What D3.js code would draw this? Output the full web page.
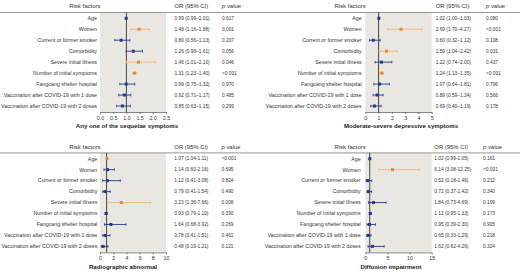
<!DOCTYPE html>
<html>
<head>
<meta charset="utf-8">
<script src="https://cdn.jsdelivr.net/npm/d3@7"></script>
<style>
  body { margin: 0; background: #fff; }
  svg { display: block; font-family: "Liberation Sans", Arial, sans-serif; }
</style>
</head>
<body>
<svg id="chart" width="520" height="277"></svg>
<script>
var factors = ["Age", "Women", "Current or former smoker", "Comorbidity", "Severe initial illness",
  "Number of initial symptoms", "Fangcang shelter hospital",
  "Vaccination after COVID-19 with 1 dose", "Vaccination after COVID-19 with 2 doses"];

var titles = ["Any one of the sequelae symptoms", "Moderate-severe depressive symptoms",
  "Radiographic abnormal", "Diffusion impairment"];

// any one of the sequelae symptoms
var anyOR = [0.99, 1.48, 0.80, 1.26, 1.46, 1.31, 0.99, 0.92, 0.85];
var anyLo = [0.99, 1.16, 0.56, 0.99, 1.01, 1.23, 0.75, 0.71, 0.63];
var anyHi = [1.01, 1.88, 1.13, 1.61, 2.10, 1.40, 1.32, 1.17, 1.15];
var anyP = ["0.617", "0.001", "0.207", "0.056", "0.046", "<0.001", "0.970", "0.485", "0.299"];
var anyTicks = [0, 0.5, 1.0, 1.5, 2.0, 2.5];

// moderate-severe depressive symptoms
var depOR = [1.02, 2.69, 0.60, 1.59, 1.22, 1.24, 1.07, 0.89, 0.69];
var depLo = [1.00, 1.70, 0.32, 1.04, 0.74, 1.13, 0.64, 0.59, 0.40];
var depHi = [1.03, 4.27, 1.12, 2.42, 2.00, 1.35, 1.81, 1.34, 1.19];
var depP = ["0.080", "<0.001", "0.108", "0.031", "0.437", "<0.001", "0.796", "0.566", "0.178"];
var depTicks = [0, 1, 2, 3, 4, 5];

// radiographic abnormal
var radOR = [1.07, 1.14, 1.12, 0.79, 3.23, 0.93, 1.64, 0.78, 0.48];
var radLo = [1.04, 0.60, 0.41, 0.41, 1.36, 0.79, 0.68, 0.41, 0.19];
var radHi = [1.11, 2.16, 3.08, 1.54, 7.66, 1.10, 3.92, 1.51, 1.21];
var radP = ["<0.001", "0.695", "0.824", "0.490", "0.008", "0.390", "0.269", "0.461", "0.121"];
var radTicks = [0, 2, 4, 6, 8, 10];

// diffusion impairment
var difOR = [1.02, 6.14, 0.52, 0.72, 1.84, 1.12, 0.95, 0.65, 1.62];
var difLo = [0.99, 3.08, 0.18, 0.37, 0.73, 0.95, 0.39, 0.33, 0.62];
var difHi = [1.05, 12.25, 1.46, 1.42, 4.69, 1.33, 2.30, 1.29, 4.26];
var difP = ["0.161", "<0.001", "0.212", "0.340", "0.199", "0.173", "0.905", "0.218", "0.324"];
var difTicks = [0, 5, 10, 15];

var ORANGE = "#e08a2e", ORANGE_LT = "#f0b673", BLUE = "#26398a", SHADE = "#e9e7e1";

var svg = d3.select("#chart");

function drawPanel(cfg) {
  var g = svg.append("g").attr("transform", "translate(0," + cfg.oy + ")");
  var rows = factors.map(function(f, i) {
    return { name: f, or: cfg.or[i], lo: cfg.lo[i], hi: cfg.hi[i], p: cfg.p[i] };
  });
  var x = d3.scaleLinear().domain([0, cfg.ticks[cfg.ticks.length - 1]]).range([cfg.x0, cfg.x1]);
  var y = d3.scalePoint().domain(factors).range([18.3, 106]);
  var top = 12.5, bottom = 112;

  g.append("rect")
    .attr("x", cfg.x0).attr("y", top)
    .attr("width", cfg.x1 - cfg.x0).attr("height", bottom - top)
    .attr("fill", SHADE);

  // header
  g.append("line").attr("x1", cfg.lineX0).attr("x2", cfg.lineX1)
    .attr("y1", top).attr("y2", top).attr("stroke", "#8a8a8a").attr("stroke-width", 0.9);
  g.append("text").attr("x", cfg.x0 + 0.5).attr("y", 8.3).attr("text-anchor", "end")
    .attr("font-size", 6).attr("fill", "#333").text("Risk factors");
  g.append("text").attr("x", cfg.orX).attr("y", 8.3)
    .attr("font-size", 5.9).attr("fill", "#333").text("OR (95% CI)");
  var pv = g.append("text").attr("x", cfg.pX).attr("y", 8.3)
    .attr("font-size", 5.9).attr("fill", "#333");
  pv.append("tspan").attr("font-style", "italic").text("p");
  pv.append("tspan").text(" value");

  // reference line at OR = 1
  g.append("line").attr("x1", x(1)).attr("x2", x(1)).attr("y1", top).attr("y2", bottom)
    .attr("stroke", "#333").attr("stroke-width", 0.9);

  // axis
  var axis = d3.axisBottom(x).tickValues(cfg.ticks).tickSize(2).tickSizeOuter(0)
    .tickFormat(cfg.fmt);
  var ax = g.append("g").attr("transform", "translate(0," + bottom + ")").call(axis);
  ax.select(".domain").attr("stroke", "#555").attr("stroke-width", 0.7);
  ax.selectAll(".tick line").attr("stroke", "#555").attr("stroke-width", 0.7);
  ax.selectAll(".tick text").attr("font-size", 5.3).attr("fill", "#333")
    .attr("font-family", "Liberation Sans, Arial, sans-serif").attr("dy", "0.55em");

  g.append("text").attr("x", cfg.titleX).attr("y", 128.3).attr("text-anchor", "middle")
    .attr("font-size", 6.1).attr("font-weight", "bold").attr("fill", "#222").text(cfg.title);

  var sig = function(d) { return d.p.charAt(0) === "<" || parseFloat(d.p) < 0.05; };

  var row = g.selectAll(".row").data(rows).enter().append("g")
    .attr("transform", function(d) { return "translate(0," + y(d.name) + ")"; });

  row.append("text").attr("x", cfg.labelRight).attr("dy", "0.35em").attr("text-anchor", "end")
    .attr("font-size", 5.3).attr("fill", "#333").text(function(d) { return d.name; });

  row.append("text").attr("x", cfg.orX).attr("dy", "0.35em")
    .attr("font-size", 4.8).attr("fill", "#333")
    .text(function(d) {
      return d.or.toFixed(2) + " (" + d.lo.toFixed(2) + cfg.sep + d.hi.toFixed(2) + ")";
    });

  row.append("text").attr("x", cfg.pX).attr("dy", "0.35em")
    .attr("font-size", 4.8).attr("fill", "#333").text(function(d) { return d.p; });

  // whiskers
  row.append("line")
    .attr("x1", function(d) { return x(d.lo); }).attr("x2", function(d) { return x(d.hi); })
    .attr("stroke", function(d) { return sig(d) ? ORANGE_LT : BLUE; }).attr("stroke-width", 0.9);
  row.selectAll(".cap").data(function(d) { return [d.lo, d.hi].map(function(v) { return { v: v, s: sig(d) }; }); })
    .enter().append("line")
    .attr("x1", function(c) { return x(c.v); }).attr("x2", function(c) { return x(c.v); })
    .attr("y1", -1.3).attr("y2", 1.3)
    .attr("stroke", function(c) { return c.s ? ORANGE_LT : BLUE; }).attr("stroke-width", 0.8);

  row.append("rect")
    .attr("x", function(d) { return x(d.or) - 1.5; }).attr("y", -1.5)
    .attr("width", 3).attr("height", 3)
    .attr("fill", function(d) { return sig(d) ? ORANGE : BLUE; });
}

drawPanel({ oy: 0, title: titles[0], or: anyOR, lo: anyLo, hi: anyHi, p: anyP, ticks: anyTicks,
  fmt: d3.format(".1f"), sep: "–", lineX0: 0, lineX1: 260,
  labelRight: 97, x0: 100, x1: 166, orX: 174.5, pX: 222, titleX: 127 });
drawPanel({ oy: 0, title: titles[1], or: depOR, lo: depLo, hi: depHi, p: depP, ticks: depTicks,
  fmt: d3.format("d"), sep: "–", lineX0: 260, lineX1: 520,
  labelRight: 361.7, x0: 365.3, x1: 431.7, orX: 435.7, pX: 486, titleX: 401 });
drawPanel({ oy: 140.4, title: titles[2], or: radOR, lo: radLo, hi: radHi, p: radP, ticks: radTicks,
  fmt: d3.format("d"), sep: "-", lineX0: 0, lineX1: 260,
  labelRight: 97.3, x0: 100, x1: 166, orX: 174.3, pX: 221.5, titleX: 123 });
drawPanel({ oy: 140.4, title: titles[3], or: difOR, lo: difLo, hi: difHi, p: difP, ticks: difTicks,
  fmt: d3.format("d"), sep: "-", lineX0: 260, lineX1: 520,
  labelRight: 360.7, x0: 365.3, x1: 431.7, orX: 434.3, pX: 483, titleX: 391 });
</script>
</body>
</html>
